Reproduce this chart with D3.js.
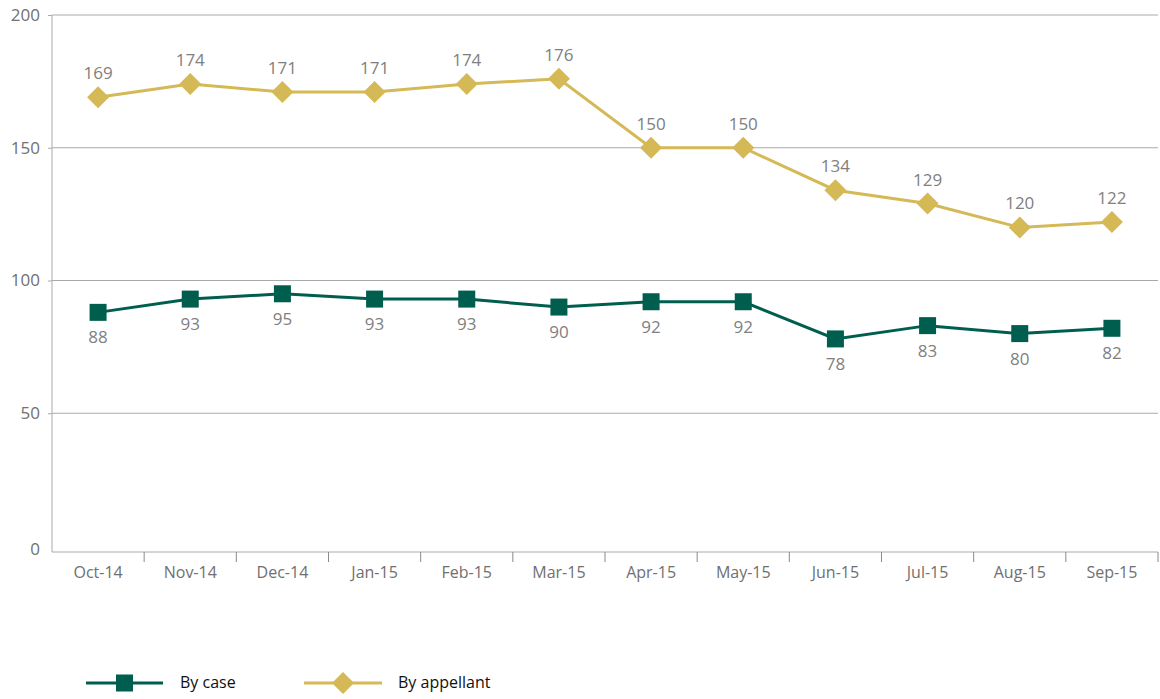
<!DOCTYPE html>
<html>
<head>
<meta charset="utf-8">
<script src="https://cdn.jsdelivr.net/npm/d3@7"></script>
<style>
  body { margin: 0; background: #fff; }
  svg { font-family: 'Open Sans', 'Noto Sans', sans-serif; }
</style>
</head>
<body>
<svg id="canvas" width="1160" height="699"></svg>
<script>
let months = ['Oct-14', 'Nov-14', 'Dec-14', 'Jan-15', 'Feb-15', 'Mar-15', 'Apr-15', 'May-15', 'Jun-15', 'Jul-15', 'Aug-15', 'Sep-15']
let byCase = [88, 93, 95, 93, 93, 90, 92, 92, 78, 83, 80, 82]
let byAppellant = [169, 174, 171, 171, 174, 176, 150, 150, 134, 129, 120, 122]
let yTicks = [0, 50, 100, 150, 200]

let caseColor = '#005e4f'
let appColor = '#d4b956'

let canvas = d3.select('#canvas')

let x = d3.scaleBand().domain(months).range([52, 1158])
let y = d3.scaleLinear().domain([0, 200]).range([546, 15])
let cx = (m) => x(m) + x.bandwidth() / 2
let axisY = y(0) + 6

// gridlines
canvas.selectAll('.grid')
    .data(yTicks.filter(d => d > 0))
    .enter()
    .append('line')
    .attr('x1', 52).attr('x2', 1158)
    .attr('y1', d => y(d)).attr('y2', d => y(d))
    .attr('stroke', '#aaaaaa').attr('stroke-width', 1)

// y axis
let yAxis = canvas.append('g')
    .attr('transform', 'translate(52,0)')
    .call(d3.axisLeft(y).tickValues(yTicks).tickSize(4).tickPadding(8))
yAxis.select('.domain').attr('d', 'M0,' + y(200) + 'V' + axisY).attr('stroke', '#aaaaaa')
yAxis.selectAll('.tick line').attr('stroke', '#aaaaaa')
yAxis.selectAll('.tick')
    .filter(d => d === 0)
    .attr('transform', 'translate(0,' + (axisY - 2) + ')')
    .select('line').remove()
yAxis.selectAll('text').attr('fill', '#707070').style('font-size', '17px').style('font-family', "'Open Sans', sans-serif")

// x axis
let xAxis = canvas.append('g')
    .attr('transform', 'translate(0,' + axisY + ')')
    .call(d3.axisBottom(x).tickSize(0).tickPadding(15))
xAxis.select('.domain').attr('stroke', '#aaaaaa').attr('d', 'M52,0H1158')
xAxis.selectAll('text').attr('fill', '#707070').style('font-size', '16px').style('font-family', "'Open Sans', sans-serif")
canvas.selectAll('.xtick')
    .data(months.slice(1).concat(['end']))
    .enter()
    .append('line')
    .attr('x1', (d, i) => x(months[0]) + x.bandwidth() * (i + 1))
    .attr('x2', (d, i) => x(months[0]) + x.bandwidth() * (i + 1))
    .attr('y1', axisY).attr('y2', axisY + 10)
    .attr('stroke', '#8a8a8a')

let line = d3.line().x((d, i) => cx(months[i])).y(d => y(d))

// By appellant
canvas.append('path')
    .datum(byAppellant)
    .attr('d', line)
    .attr('fill', 'none').attr('stroke', appColor).attr('stroke-width', 3)
canvas.selectAll('.diamond')
    .data(byAppellant)
    .enter()
    .append('path')
    .attr('d', 'M0,-11L11,0L0,11L-11,0Z')
    .attr('transform', (d, i) => 'translate(' + cx(months[i]) + ',' + y(d) + ')')
    .attr('fill', appColor)
canvas.selectAll('.appLabel')
    .data(byAppellant)
    .enter()
    .append('text')
    .attr('x', (d, i) => cx(months[i]))
    .attr('y', d => y(d) - 18)
    .attr('text-anchor', 'middle')
    .attr('fill', '#808080')
    .style('font-size', '17px')
    .text(d => d)

// By case
canvas.append('path')
    .datum(byCase)
    .attr('d', line)
    .attr('fill', 'none').attr('stroke', caseColor).attr('stroke-width', 3)
canvas.selectAll('.square')
    .data(byCase)
    .enter()
    .append('rect')
    .attr('x', (d, i) => cx(months[i]) - 8.5)
    .attr('y', d => y(d) - 8.5)
    .attr('width', 17).attr('height', 17)
    .attr('fill', caseColor)
canvas.selectAll('.caseLabel')
    .data(byCase)
    .enter()
    .append('text')
    .attr('x', (d, i) => cx(months[i]))
    .attr('y', d => y(d) + 31)
    .attr('text-anchor', 'middle')
    .attr('fill', '#808080')
    .style('font-size', '17px')
    .text(d => d)

// legend
let legend = canvas.append('g').attr('transform', 'translate(0,683)')
legend.append('line').attr('x1', 86).attr('x2', 163).attr('stroke', caseColor).attr('stroke-width', 3)
legend.append('rect').attr('x', 116).attr('y', -8.5).attr('width', 17).attr('height', 17).attr('fill', caseColor)
legend.append('text').attr('x', 180).attr('y', 5).style('font-size', '16px').attr('fill', '#111').text('By case')
legend.append('line').attr('x1', 304).attr('x2', 382).attr('stroke', appColor).attr('stroke-width', 3)
legend.append('path').attr('d', 'M343,-11L354,0L343,11L332,0Z').attr('fill', appColor)
legend.append('text').attr('x', 398).attr('y', 5).style('font-size', '16px').attr('fill', '#111').text('By appellant')
</script>
</body>
</html>
